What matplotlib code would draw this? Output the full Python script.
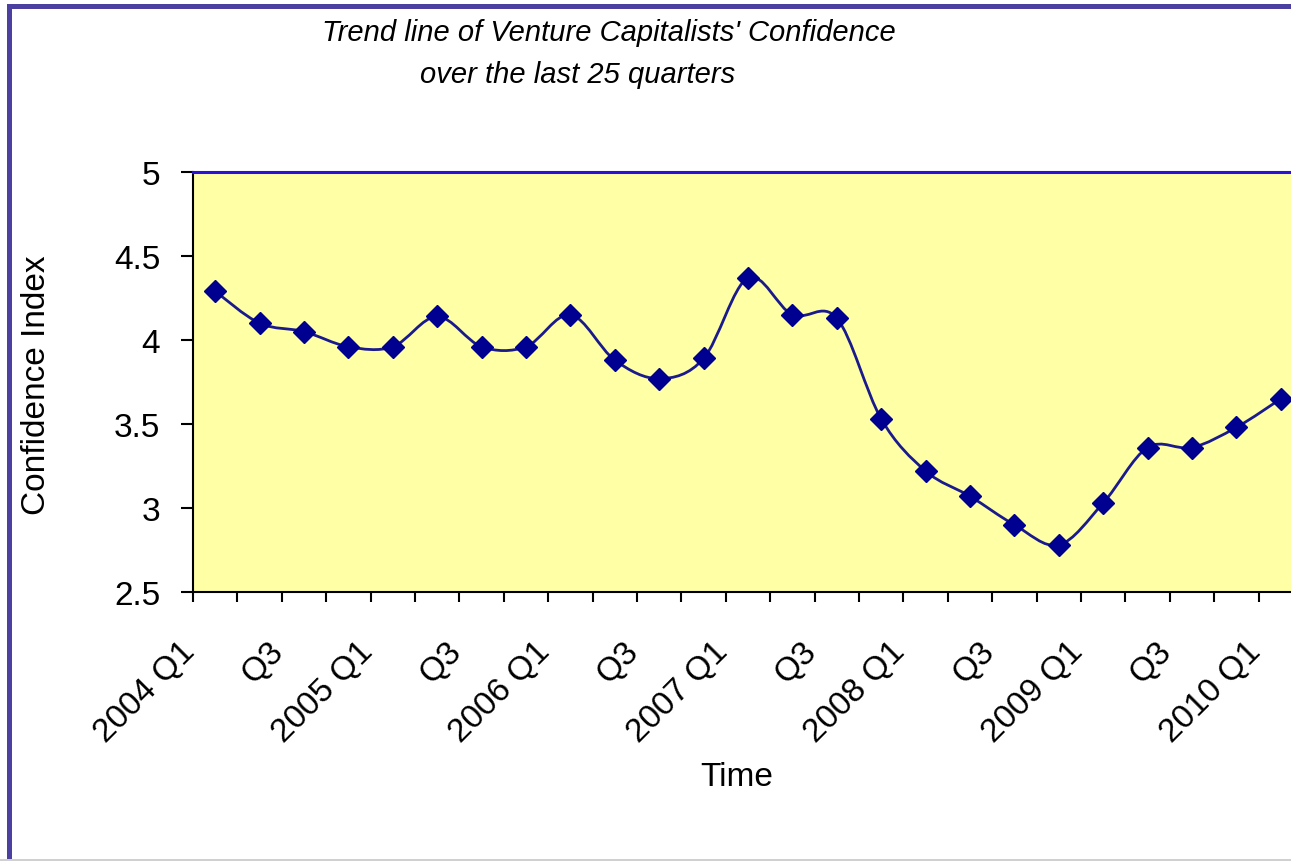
import numpy as np
import matplotlib.pyplot as plt
import matplotlib.transforms as mtransforms
from matplotlib.path import Path
from matplotlib.patches import PathPatch, Rectangle

plt.rcParams['font.family']=['Liberation Sans', 'DejaVu Sans']

years=[2004, 2005, 2006, 2007, 2008, 2009, 2010]
quarters=[f"{y} Q{q}" for y in years for q in (1, 2, 3, 4)][:25]
# only Q1 (with year) and Q3 get a label
tickLabels=[q if q.endswith("Q1") else ("Q3" if q.endswith("Q3") else "") for q in quarters]
confidence=[4.29, 4.10, 4.05, 3.96, 3.96, 4.14, 3.96, 3.96, 4.15, 3.88,
	3.77, 3.89, 4.37, 4.15, 4.13, 3.53, 3.22, 3.07, 2.90, 2.78,
	3.03, 3.36, 3.36, 3.48, 3.65]
yTicks=[2.5, 3, 3.5, 4, 4.5, 5]

def smoothPath(x, y, t=1/6):
	# bezier through every point, like a spreadsheet "smoothed line"
	n=len(x)
	verts=[(x[0], y[0])]
	codes=[Path.MOVETO]
	for i in range(n-1):
		xa, ya=(x[i-1], y[i-1]) if i>0 else (x[i], y[i])
		xb, yb=(x[i+2], y[i+2]) if i+2<n else (x[i+1], y[i+1])
		verts.append((x[i]+(x[i+1]-xa)*t, y[i]+(y[i+1]-ya)*t))
		verts.append((x[i+1]-(xb-x[i])*t, y[i+1]-(yb-y[i])*t))
		verts.append((x[i+1], y[i+1]))
		codes+=[Path.CURVE4]*3
	return Path(verts, codes)

W, H=1291, 862
fig=plt.figure(figsize=(W/100, H/100), dpi=100)
ax=fig.add_axes([193/W, 1-593/H, 1110/W, 420/H])
ax.set_facecolor("#FFFFA6")

xs=np.arange(len(confidence))
ax.add_patch(PathPatch(smoothPath(xs, confidence), facecolor="none", edgecolor="#1A1A8C", lw=2, zorder=3))
ax.plot(xs, confidence, linestyle="none", marker="D", ms=11.5, color="#000090", zorder=4)

ax.set_xlim(-0.5, len(confidence)-0.5)
ax.set_ylim(2.5, 5)
ax.set_yticks(yTicks)
ax.set_yticklabels([f"{v:g}" for v in yTicks])
ax.tick_params(axis="y", direction="out", length=8.5, width=1.5, pad=15, labelsize=24)

ax.set_xticks(xs)
ax.set_xticklabels(tickLabels)
ax.set_xticks(np.arange(-0.5, len(confidence)), minor=True)
ax.tick_params(axis="x", which="major", length=0, pad=0, labelsize=24)
ax.tick_params(axis="x", which="minor", direction="out", length=7.5, width=1.5)
offset=mtransforms.ScaledTranslation(-0.36, -0.43, fig.dpi_scale_trans)
for lab in ax.get_xticklabels():
	lab.set_rotation(45)
	lab.set_ha("right")
	lab.set_va("top")
	lab.set_rotation_mode("anchor")
	lab.set_transform(lab.get_transform()+offset)

ax.spines["top"].set_color("#2A10D8")
ax.spines["top"].set_linewidth(2.2)
ax.spines["right"].set_visible(False)
ax.spines["left"].set_linewidth(1.5)
ax.spines["bottom"].set_linewidth(1.5)

fig.text(609/W, 1-33/H, "Trend line of Venture Capitalists' Confidence", style="italic", fontsize=21, ha="center", va="center")
fig.text(578/W, 1-75/H, "over the last 25 quarters", style="italic", fontsize=21, ha="center", va="center")
fig.text(37/W, 1-385/H, "Confidence Index", rotation=90, fontsize=24, ha="center", va="center")
fig.text(737/W, 1-778/H, "Time", fontsize=24, ha="center", va="center")

# purple frame on the left and top, thin grey line at the bottom
fig.add_artist(Rectangle((7/W, 0), 5/W, 1-5/H, transform=fig.transFigure, color="#4B3FA0", lw=0))
fig.add_artist(Rectangle((7/W, 1-10/H), 1, 5/H, transform=fig.transFigure, color="#4B3FA0", lw=0))
fig.add_artist(Rectangle((0, 0), 1, 2/H, transform=fig.transFigure, color="#D0D0D0", lw=0))

plt.savefig("out.png", dpi=100)
